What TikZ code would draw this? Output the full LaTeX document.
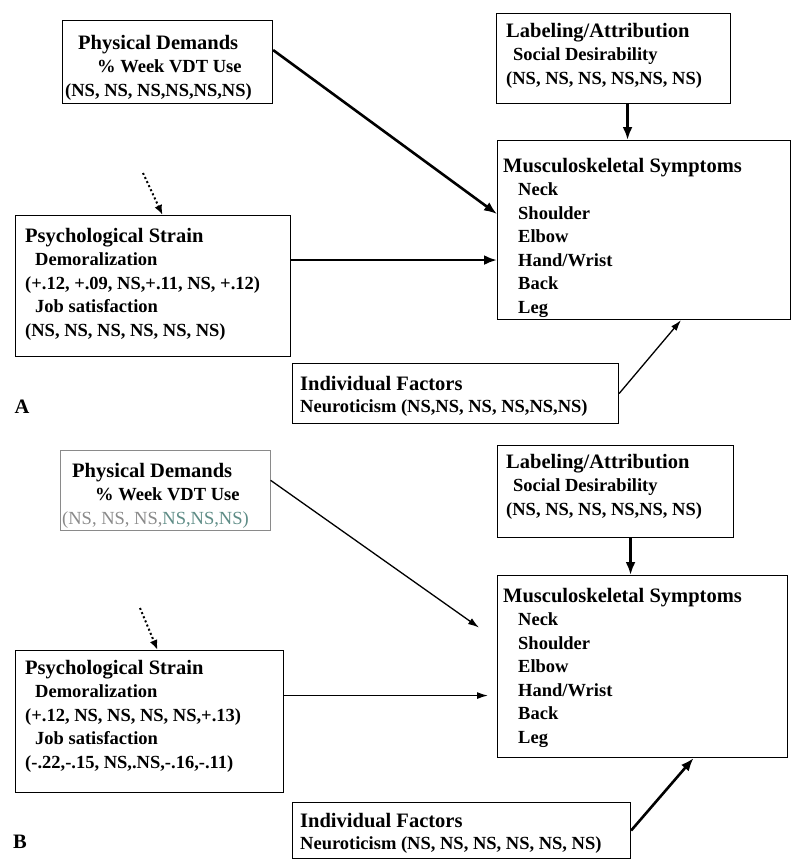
\documentclass[tikz,border=0pt]{standalone}
\usepackage{fontspec}
\setmainfont{Liberation Serif}
\usetikzlibrary{positioning,arrows.meta}
\definecolor{fadegray}{HTML}{8A8A8A}
\definecolor{fadeteal}{HTML}{5E8C86}
\newcommand{\boxhead}[1]{{\fontsize{20.5}{23.5}\selectfont #1}}

\begin{document}
\begin{tikzpicture}[x=1pt, y=-1pt,
    box/.style={draw, line width=1.1pt, inner sep=0pt, anchor=north west},
    txt/.style={inner sep=0pt, anchor=north west, align=left,
                font=\fontsize{18.5}{23.5}\selectfont\bfseries},
    arrow/.style={-{Latex[length=13pt,width=10pt]}, line width=2.6pt},
    thinarrow/.style={-{Latex[length=11pt,width=7pt]}, line width=1.3pt},
    dotarrow/.style={-{Latex[length=10pt,width=8pt]}, line width=2pt,
                     dash pattern=on 2pt off 2.5pt},
]
  \useasboundingbox (0,0) rectangle (794,860);

  % panel A
  \node[box, minimum width=210pt, minimum height=83pt] (physA) at (62,20) {};
  \node[box, minimum width=234pt, minimum height=90pt] (labA) at (496,13) {};
  \node[box, minimum width=293pt, minimum height=179pt] (muscA) at (497,140) {};
  \node[box, minimum width=275pt, minimum height=141pt] (psychA) at (15,215) {};
  \node[box, minimum width=326pt, minimum height=60pt] (indA) at (292,363) {};

  \node[txt] (physAtxt) at (65,35) {\hspace*{13pt}\boxhead{Physical Demands}\\
    \hspace*{32pt}\% Week VDT Use\\ (NS, NS, NS,NS,NS,NS)};
  \node[txt] (labAtxt) at (506,23) {\boxhead{Labeling/Attribution}\\
    \hspace*{7pt}Social Desirability\\ (NS, NS, NS, NS,NS, NS)};
  \node[txt] (muscAtxt) at (503,158) {\boxhead{Musculoskeletal Symptoms}\\
    \hspace*{15pt}Neck\\ \hspace*{15pt}Shoulder\\ \hspace*{15pt}Elbow\\
    \hspace*{15pt}Hand/Wrist\\ \hspace*{15pt}Back\\ \hspace*{15pt}Leg};
  \node[txt] (psychAtxt) at (25,228) {\boxhead{Psychological Strain}\\
    \hspace*{10pt}Demoralization\\ (+.12, +.09, NS,+.11, NS, +.12)\\
    \hspace*{10pt}Job satisfaction\\ (NS, NS, NS, NS, NS, NS)};
  \node[txt, font=\fontsize{18.5}{22}\selectfont\bfseries] (indAtxt) at (300,376)
    {\boxhead{Individual Factors}\\ Neuroticism (NS,NS, NS, NS,NS,NS)};
  \node[font=\fontsize{20.5}{23.5}\selectfont\bfseries] (labelA) at (22,407) {A};

  \coordinate (dotA) at (143,173);
  \draw[dotarrow] (dotA) -- ([xshift=9.5pt]psychA.north);
  \draw[arrow] ([yshift=12pt]physA.east) -- ([yshift=16pt]muscA.west);
  \draw[arrow] ([yshift=26pt]psychA.east) coordinate (psA) -- (psA -| muscA.west);
  \draw[arrow] ([xshift=14pt]labA.south) coordinate (lbA) -- (lbA |- muscA.north);
  \draw[thinarrow] (indA.east) -- ([xshift=37pt]muscA.south);

  % panel B
  \node[box, draw=fadegray, line width=0.6pt, minimum width=210pt, minimum height=80pt]
    (physB) at (60,450) {};
  \node[box, minimum width=236pt, minimum height=92pt] (labB) at (497,445) {};
  \node[box, minimum width=290pt, minimum height=182pt] (muscB) at (497,575) {};
  \node[box, minimum width=268pt, minimum height=142pt] (psychB) at (15,650) {};
  \node[box, minimum width=338pt, minimum height=56pt] (indB) at (292,802) {};

  \node[txt] (physBtxt) at (62,463) {\hspace*{10pt}\boxhead{Physical Demands}\\
    \hspace*{33pt}\% Week VDT Use\\
    {\mdseries\color{fadegray}(NS, NS, NS,}{\mdseries\color{fadeteal}NS,NS,NS)}};
  \node[txt] (labBtxt) at (506,454) {\boxhead{Labeling/Attribution}\\
    \hspace*{7pt}Social Desirability\\ (NS, NS, NS, NS,NS, NS)};
  \node[txt] (muscBtxt) at (503,588) {\boxhead{Musculoskeletal Symptoms}\\
    \hspace*{15pt}Neck\\ \hspace*{15pt}Shoulder\\ \hspace*{15pt}Elbow\\
    \hspace*{15pt}Hand/Wrist\\ \hspace*{15pt}Back\\ \hspace*{15pt}Leg};
  \node[txt] (psychBtxt) at (25,660) {\boxhead{Psychological Strain}\\
    \hspace*{10pt}Demoralization\\ (+.12, NS, NS, NS, NS,+.13)\\
    \hspace*{10pt}Job satisfaction\\ (-.22,-.15, NS,.NS,-.16,-.11)};
  \node[txt, font=\fontsize{18.5}{22}\selectfont\bfseries] (indBtxt) at (300,813)
    {\boxhead{Individual Factors}\\ Neuroticism (NS, NS, NS, NS, NS, NS)};
  \node[font=\fontsize{20.5}{23.5}\selectfont\bfseries] (labelB) at (20,842) {B};

  \coordinate (dotB) at (140,608);
  \draw[dotarrow] (dotB) -- ([xshift=8pt]psychB.north);
  \draw[thinarrow] ([yshift=10pt]physB.east) -- ([xshift=-18pt,yshift=39pt]muscB.west);
  \draw[thinarrow] ([yshift=26pt]psychB.east) coordinate (psB) -- ([xshift=-9pt]psB -| muscB.west);
  \draw[arrow] ([xshift=15pt]labB.south) coordinate (lbB) -- (lbB |- muscB.north);
  \draw[arrow] (indB.east) -- ([xshift=51pt]muscB.south);
\end{tikzpicture}
\end{document}
